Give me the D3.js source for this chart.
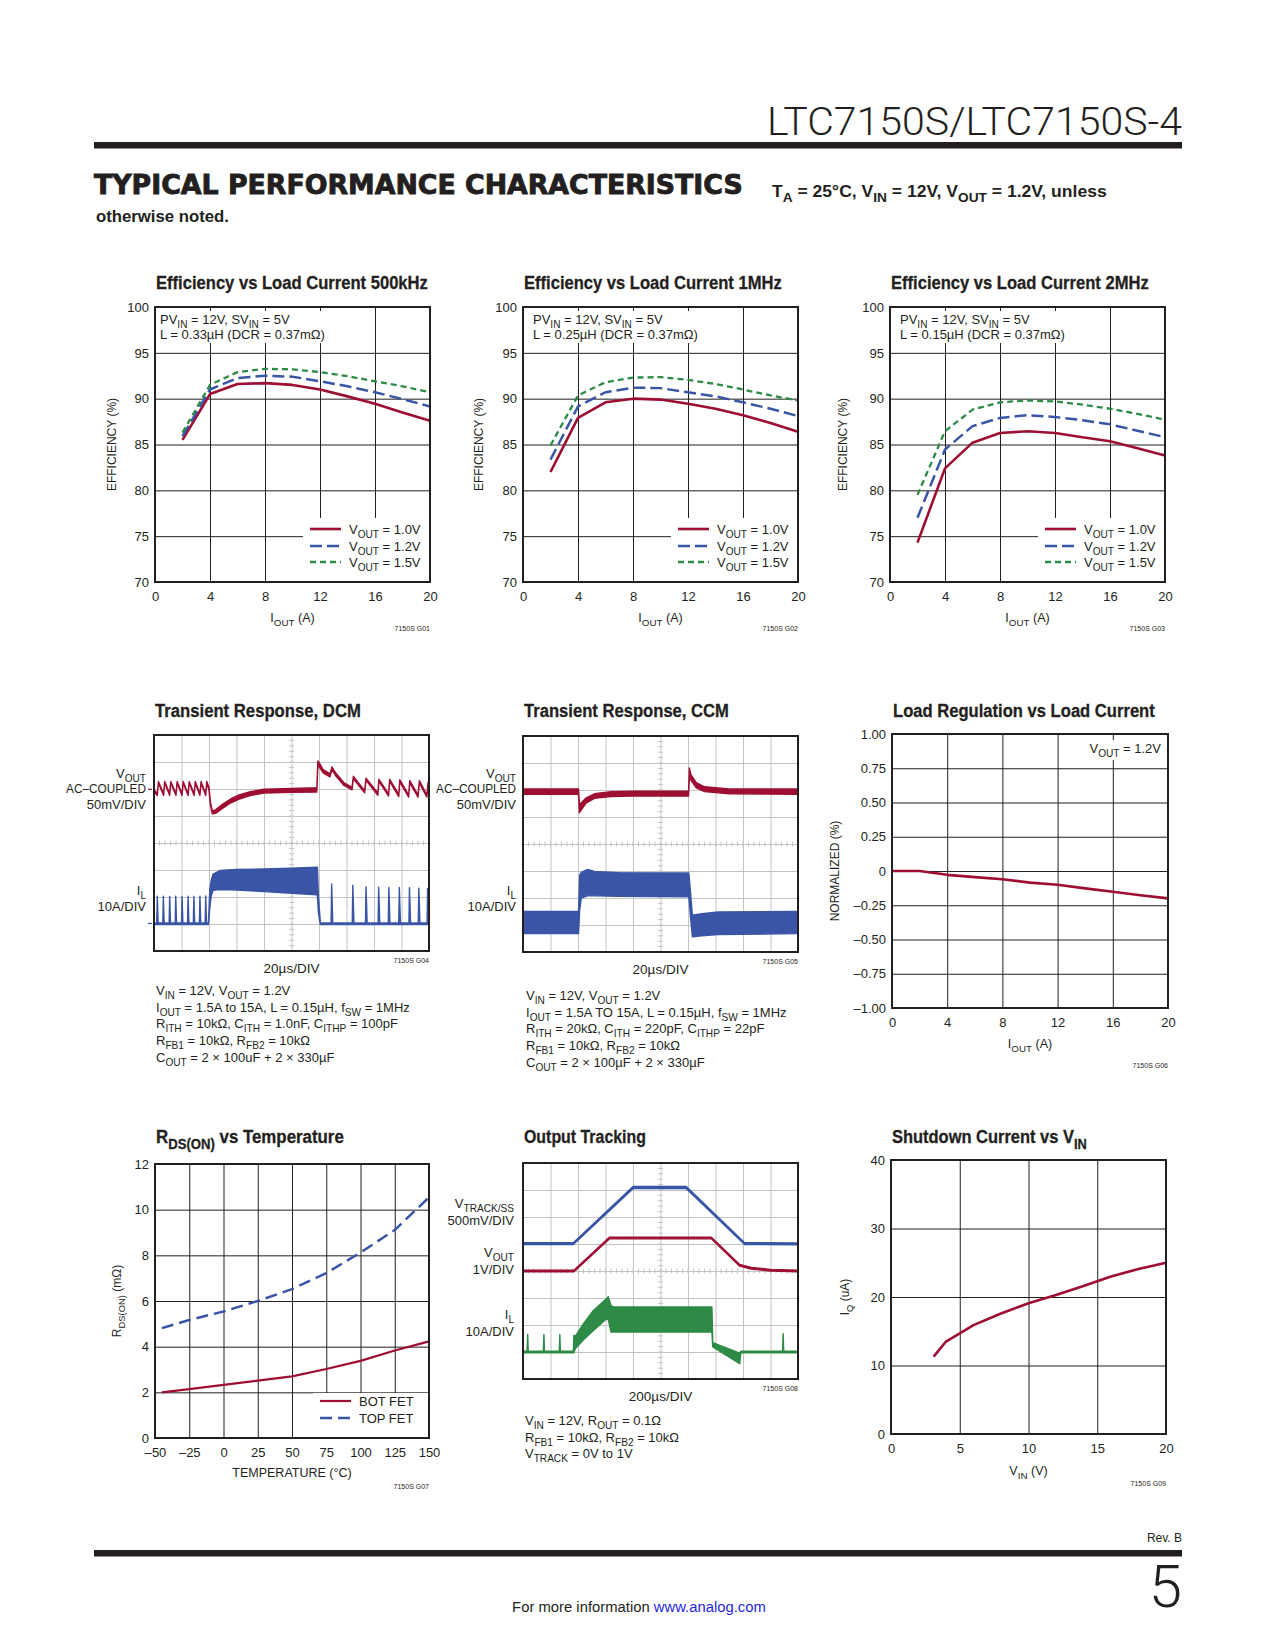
<!DOCTYPE html>
<html>
<head>
<meta charset="utf-8">
<script src="https://cdn.jsdelivr.net/npm/d3@7"></script>
<style>
  body { margin: 0; background: #fff; }
  svg { display: block; }
</style>
</head>
<body>
<script>
// ---- data ----
const iout = [2, 4, 6, 8, 10, 12, 14, 16, 18, 20];
const eff500k_10 = [85.5, 90.5, 91.6, 91.7, 91.5, 91.0, 90.25, 89.45, 88.5, 87.6];
const eff500k_12 = [85.9, 91.0, 92.25, 92.5, 92.4, 91.9, 91.35, 90.7, 89.95, 89.15];
const eff500k_15 = [86.3, 91.5, 92.9, 93.25, 93.2, 92.9, 92.45, 91.9, 91.35, 90.7];
const eff1m_10 = [82.0, 87.9, 89.6, 90.0, 89.9, 89.45, 88.9, 88.2, 87.35, 86.4];
const eff1m_12 = [83.35, 89.15, 90.7, 91.2, 91.15, 90.7, 90.25, 89.6, 88.9, 88.1];
const eff1m_15 = [84.9, 90.35, 91.8, 92.3, 92.35, 92.05, 91.6, 91.0, 90.35, 89.8];
const eff2m_10 = [74.3, 82.4, 85.2, 86.25, 86.45, 86.25, 85.8, 85.35, 84.6, 83.8];
const eff2m_12 = [77.0, 84.45, 87.0, 87.9, 88.2, 88.0, 87.65, 87.2, 86.5, 85.8];
const eff2m_15 = [79.5, 86.45, 88.8, 89.6, 89.8, 89.7, 89.35, 88.9, 88.35, 87.7];
const effTicksX = [0, 4, 8, 12, 16, 20];
const effTicksY = [70, 75, 80, 85, 90, 95, 100];

const regI = [0, 2, 4, 6, 8, 10, 12, 14, 16, 18, 20];
const regPct = [0, 0, -0.028, -0.045, -0.06, -0.085, -0.10, -0.127, -0.152, -0.177, -0.20];
const regTicksY = [-1, -0.75, -0.5, -0.25, 0, 0.25, 0.5, 0.75, 1];
const regTickLabels = ["\u20131.00", "\u20130.75", "\u20130.50", "\u20130.25", "0", "0.25", "0.50", "0.75", "1.00"];

const tempC = [-45, -25, 0, 25, 50, 75, 100, 125, 150];
const rdsBot = [2.0, 2.14, 2.33, 2.51, 2.7, 3.02, 3.38, 3.83, 4.23];
const rdsTop = [4.81, 5.17, 5.54, 6.0, 6.52, 7.22, 8.12, 9.11, 10.54];
const tempTicks = [-50, -25, 0, 25, 50, 75, 100, 125, 150];
const tempTickLabels = ["\u201350", "\u201325", "0", "25", "50", "75", "100", "125", "150"];
const rdsTicks = [0, 2, 4, 6, 8, 10, 12];

const vin = [3.1, 4, 5, 6, 8, 10, 12, 14, 16, 18, 20];
const iq = [11.3, 13.5, 14.7, 15.9, 17.6, 19.1, 20.3, 21.6, 23.0, 24.1, 25.0];
const vinTicks = [0, 5, 10, 15, 20];
const iqTicks = [0, 10, 20, 30, 40];

// scope traces: [time div, low div, high div]  (0..10 across, 0..8 up)
const dcmVout = [
  [0, 5.92, 5.98], [0.12, 5.76, 5.82], [0.16, 6.22, 6.28], [0.35, 5.76, 5.82], [0.39, 6.22, 6.28],
  [0.57, 5.76, 5.82], [0.61, 6.22, 6.28], [0.8, 5.76, 5.82], [0.84, 6.22, 6.28], [1.02, 5.76, 5.82],
  [1.06, 6.22, 6.28], [1.24, 5.76, 5.82], [1.28, 6.22, 6.28], [1.46, 5.76, 5.82], [1.5, 6.22, 6.28],
  [1.67, 5.76, 5.82], [1.71, 6.22, 6.28], [1.88, 5.76, 5.82], [1.92, 6.22, 6.28], [2.0, 5.95, 6.05],
  [2.05, 5.42, 5.53], [2.12, 5.08, 5.18], [2.25, 5.1, 5.24], [2.5, 5.29, 5.44], [2.8, 5.49, 5.64],
  [3.1, 5.63, 5.78], [3.5, 5.76, 5.9], [4.0, 5.85, 5.99], [5.0, 5.88, 6.02], [5.92, 5.89, 6.05],
  [5.96, 6.88, 7.04], [6.02, 6.8, 6.95], [6.15, 6.6, 6.72], [6.4, 6.45, 6.56], [6.47, 6.72, 6.82],
  [6.6, 6.5, 6.6], [6.9, 6.14, 6.24], [7.2, 5.97, 6.06], [7.25, 6.38, 6.47], [7.66, 5.86, 5.94],
  [7.71, 6.32, 6.4], [8.14, 5.77, 5.85], [8.18, 6.28, 6.36], [8.53, 5.74, 5.82], [8.57, 6.28, 6.36],
  [8.9, 5.72, 5.8], [8.94, 6.26, 6.34], [9.26, 5.7, 5.78], [9.3, 6.23, 6.31], [9.6, 5.7, 5.78],
  [9.65, 6.23, 6.31], [9.92, 5.7, 5.78], [9.97, 6.18, 6.26], [10, 6.12, 6.2]
];
const dcmIL = [
  [0, 0.98, 1.04], [0.1, 0.98, 1.04], [0.12, 0.98, 2.03], [0.15, 0.98, 1.04],
  [0.32, 0.98, 1.04], [0.34, 0.98, 2.03], [0.37, 0.98, 1.04],
  [0.55, 0.98, 1.04], [0.57, 0.98, 2.02], [0.6, 0.98, 1.04],
  [0.77, 0.98, 1.04], [0.79, 0.98, 2.03], [0.82, 0.98, 1.04],
  [1.0, 0.98, 1.04], [1.02, 0.98, 2.02], [1.05, 0.98, 1.04],
  [1.22, 0.98, 1.04], [1.24, 0.98, 2.03], [1.27, 0.98, 1.04],
  [1.43, 0.98, 1.04], [1.45, 0.98, 2.02], [1.48, 0.98, 1.04],
  [1.65, 0.98, 1.04], [1.67, 0.98, 2.03], [1.7, 0.98, 1.04],
  [1.86, 0.98, 1.04], [1.88, 0.98, 2.04], [1.91, 0.98, 1.04],
  [1.98, 0.98, 1.04], [2.03, 1.6, 2.3], [2.08, 2.05, 2.6], [2.15, 2.25, 2.85], [2.4, 2.28, 2.98],
  [3.0, 2.26, 3.02], [4.0, 2.2, 3.04], [5.0, 2.14, 3.07], [5.94, 2.08, 3.1], [5.98, 1.4, 2.0],
  [6.05, 0.98, 1.04], [6.44, 0.98, 1.04], [6.46, 0.98, 2.48], [6.5, 0.98, 1.04],
  [7.21, 0.98, 1.04], [7.23, 0.98, 2.44], [7.27, 0.98, 1.04],
  [7.69, 0.98, 1.04], [7.71, 0.98, 2.38], [7.75, 0.98, 1.04],
  [8.15, 0.98, 1.04], [8.17, 0.98, 2.36], [8.21, 0.98, 1.04],
  [8.52, 0.98, 1.04], [8.54, 0.98, 2.35], [8.58, 0.98, 1.04],
  [8.9, 0.98, 1.04], [8.92, 0.98, 2.35], [8.96, 0.98, 1.04],
  [9.27, 0.98, 1.04], [9.29, 0.98, 2.34], [9.33, 0.98, 1.04],
  [9.61, 0.98, 1.04], [9.63, 0.98, 2.33], [9.67, 0.98, 1.04],
  [9.93, 0.98, 1.04], [9.95, 0.98, 2.32], [9.99, 0.98, 1.04], [10, 0.98, 1.04]
];
const ccmVout = [
  [0, 5.84, 6.04], [2.02, 5.84, 6.04], [2.05, 5.16, 5.46], [2.1, 5.24, 5.51], [2.3, 5.52, 5.71],
  [2.6, 5.69, 5.86], [3.2, 5.76, 5.94], [4.0, 5.78, 5.96], [6.02, 5.78, 5.96], [6.05, 6.47, 6.82],
  [6.1, 6.38, 6.58], [6.3, 6.08, 6.27], [6.6, 5.94, 6.12], [7.5, 5.86, 6.04], [10, 5.84, 6.04]
];
const ccmIL = [
  [0, 0.68, 1.5], [2.02, 0.68, 1.5], [2.06, 1.55, 2.85], [2.12, 2.0, 2.95], [2.35, 2.08, 3.06],
  [2.6, 2.08, 2.98], [3.5, 2.06, 2.94], [6.03, 2.04, 2.93], [6.1, 1.2, 2.1], [6.16, 0.56, 1.36],
  [6.5, 0.6, 1.42], [7.1, 0.65, 1.48], [10, 0.68, 1.5]
];
const trkVtrack = [
  [0, 4.98, 5.05], [1.83, 4.98, 5.05], [4.0, 7.05, 7.13], [5.94, 7.05, 7.13], [8.06, 4.98, 5.05], [10, 4.97, 5.04]
];
const trkVout = [
  [0, 3.97, 4.03], [1.85, 3.97, 4.03], [3.14, 5.19, 5.25], [6.85, 5.19, 5.25], [7.88, 4.18, 4.24],
  [8.3, 4.07, 4.13], [9.0, 4.0, 4.06], [10, 3.97, 4.03]
];
const trkIL = [
  [0, 0.97, 1.03], [0.15, 0.97, 1.03], [0.17, 0.97, 1.65], [0.19, 0.97, 1.03],
  [0.74, 0.97, 1.03], [0.76, 0.97, 1.65], [0.78, 0.97, 1.03],
  [1.32, 0.97, 1.03], [1.34, 0.97, 1.65], [1.36, 0.97, 1.03],
  [1.83, 0.97, 1.03], [1.85, 0.97, 1.62], [1.9, 1.12, 1.58], [2.2, 1.45, 2.05], [2.56, 1.8, 2.54],
  [3.04, 2.23, 2.98], [3.1, 2.2, 3.05], [3.2, 1.74, 2.72], [3.3, 1.74, 2.67], [6.87, 1.74, 2.67],
  [6.9, 1.19, 1.35], [7.88, 0.57, 0.96], [7.92, 0.97, 1.03], [9.44, 0.97, 1.03], [9.46, 0.97, 1.68],
  [9.48, 0.97, 1.03], [10, 0.97, 1.03]
];

// ---- styles ----
const FONT = "'Liberation Sans', Arial, Helvetica, sans-serif";
const NARROW = "'Liberation Sans Narrow', 'Arial Narrow', 'Liberation Sans', Arial, sans-serif";
const INK = "#231f20";
const RED = "#9d0e32", BLUE = "#3a55a5", GREEN = "#2e8b47";

const svg = d3.select("body").append("svg")
  .attr("width", 1275).attr("height", 1650)
  .attr("viewBox", "0 0 1275 1650");
svg.append("rect").attr("width", 1275).attr("height", 1650).attr("fill", "#fff");

// text with _{sub} markup
function rich(t, str, size) {
  const parts = str.split(/_\{([^}]*)\}/);
  const sh = Math.round(size * 0.3);
  let down = false;
  parts.forEach((p, i) => {
    if (!p) return;
    const ts = t.append("tspan").text(p);
    if (i % 2) {
      ts.attr("font-size", Math.round(size * 0.78 * 10) / 10);
      if (!down) { ts.attr("dy", sh); down = true; }
    } else if (down) {
      ts.attr("dy", -sh); down = false;
    }
  });
  return t;
}

// o.len: stretch the whole text horizontally to that width (about its anchor)
function label(parent, x, y, str, o = {}) {
  const size = o.size || 13;
  const t = parent.append("text").attr("x", x).attr("y", y)
    .attr("font-family", o.font || FONT).attr("font-size", size)
    .attr("font-weight", o.weight || "normal").attr("fill", o.fill || INK)
    .attr("text-anchor", o.anchor || "start");
  if (o.stroke) t.attr("stroke", o.fill || INK).attr("stroke-width", o.stroke);
  rich(t, str, size);
  if (o.len) {
    const w0 = t.node().getBBox().width;
    const k = o.len / w0;
    t.attr("transform", `translate(${x},${y}) scale(${k},1) translate(${-x},${-y})`);
  }
  if (o.rotate) t.attr("transform", `rotate(-90 ${x} ${y})`);
  return t;
}

function styleAxis(a, color, size) {
  a.select(".domain").remove();
  a.selectAll("line").attr("stroke", color).attr("stroke-width", 1);
  a.selectAll("text").attr("font-family", FONT).attr("font-size", size).attr("fill", INK);
}

// ---- header ----
label(svg, 1182, 135, "LTC7150S/LTC7150S-4",
  { font: "Roboto, 'Liberation Sans', sans-serif", weight: 300, size: 39, anchor: "end", len: 415 });
svg.append("rect").attr("x", 94).attr("y", 142).attr("width", 1088).attr("height", 6.5).attr("fill", INK);
label(svg, 94, 194, "TYPICAL PERFORMANCE CHARACTERISTICS",
  { font: "'DejaVu Sans', sans-serif", weight: "bold", size: 27, len: 649, stroke: 0.9 });
label(svg, 772, 197, "T_{A} = 25°C, V_{IN} = 12V, V_{OUT} = 1.2V, unless",
  { font: NARROW, weight: "bold", size: 16, len: 335 });
label(svg, 96, 222, "otherwise noted.", { font: NARROW, weight: "bold", size: 16, len: 133 });

// ---- footer ----
label(svg, 1182, 1542, "Rev. B", { font: NARROW, size: 12, anchor: "end" });
svg.append("rect").attr("x", 94).attr("y", 1550).attr("width", 1088).attr("height", 6.5).attr("fill", INK);
label(svg, 1182, 1607, "5", { font: "Roboto, 'Liberation Sans', sans-serif", weight: 300, size: 60, anchor: "end" });
const foot = svg.append("text").attr("x", 639).attr("y", 1612).attr("text-anchor", "middle")
  .attr("font-family", NARROW).attr("font-size", 15).attr("fill", INK);
foot.append("tspan").text("For more information ");
foot.append("tspan").attr("fill", "#1f1fe6").text("www.analog.com");
{
  const k = 254 / foot.node().getBBox().width;
  foot.attr("transform", `translate(639,1612) scale(${k},1) translate(-639,-1612)`);
}

// ---- x/y line charts ----
function xyChart(o) {
  const g = svg.append("g");
  const x = d3.scaleLinear().domain(o.xDomain).range([o.left, o.left + o.w]);
  const y = d3.scaleLinear().domain(o.yDomain).range([o.top + o.h, o.top]);

  const gx = g.append("g").attr("transform", `translate(0,${o.top + o.h})`)
    .call(d3.axisBottom(x).tickValues(o.xTicks).tickSize(-o.h).tickPadding(10)
      .tickFormat((d, i) => o.xTickLabels ? o.xTickLabels[i] : d));
  const gy = g.append("g").attr("transform", `translate(${o.left},0)`)
    .call(d3.axisLeft(y).tickValues(o.yTicks).tickSize(-o.w).tickPadding(6)
      .tickFormat((d, i) => o.yTickLabels ? o.yTickLabels[i] : d));
  styleAxis(gx, INK, 13);
  styleAxis(gy, INK, 13);

  // annotation (white box hides grid)
  if (o.annot) {
    const ga = g.append("g");
    o.annot.forEach(a => label(ga, o.left + a.dx, o.top + a.dy, a.text, { size: 13, anchor: a.anchor }));
    const b = ga.node().getBBox();
    ga.insert("rect", ":first-child").attr("x", b.x - 3).attr("y", b.y - 1)
      .attr("width", b.width + 6).attr("height", b.height + 2).attr("fill", "#fff");
  }

  // legend box
  if (o.legend) {
    const L = o.legend, R = o.left + o.w;
    const gl = g.append("g");
    gl.append("rect").attr("x", R - L.box).attr("y", o.top + L.top)
      .attr("width", L.box).attr("height", o.h - L.top).attr("fill", "#fff");
    o.series.forEach((s, i) => {
      const yy = o.top + L.rows[i];
      gl.append("line").attr("x1", R - L.x0).attr("x2", R - L.x1).attr("y1", yy).attr("y2", yy)
        .attr("stroke", s.color).attr("stroke-width", s.width).attr("stroke-dasharray", s.dash || null);
      label(gl, R - L.tx, yy + 4.5, s.name, { size: 13 });
    });
  }

  const line = d3.line().x(d => x(d[0])).y(d => y(d[1]));
  o.series.forEach(s => {
    g.append("path").attr("d", line(d3.zip(s.x, s.y)))
      .attr("fill", "none").attr("stroke", s.color).attr("stroke-width", s.width)
      .attr("stroke-dasharray", s.dash || null).attr("stroke-linejoin", "round");
  });

  g.append("rect").attr("x", o.left).attr("y", o.top).attr("width", o.w).attr("height", o.h)
    .attr("fill", "none").attr("stroke", INK).attr("stroke-width", 2);

  label(g, o.left + 1, o.titleY, o.title, { font: NARROW, weight: "bold", size: 18.5, len: o.titleLen, stroke: 0.3 });
  label(g, o.left + o.w / 2, o.top + o.h + o.xLabelDy, o.xLabel, { size: 12.5, anchor: "middle" });
  label(g, o.left + o.yLabelDx, o.top + o.h / 2, o.yLabel, { size: 12, anchor: "middle", rotate: true });
  label(g, o.left + o.w, o.top + o.h + o.codeDy, o.code, { font: NARROW, size: 7, anchor: "end" });
}

const effLegend = { box: 127, top: 211, x0: 120, x1: 89, tx: 81, rows: [222, 239, 255] };
const effSets = [
  { left: 155, title: "Efficiency vs Load Current 500kHz", len: 272, ind: "L = 0.33µH (DCR = 0.37mΩ)",
    s: [eff500k_10, eff500k_12, eff500k_15], code: "7150S G01", ax: 5, ylx: -39 },
  { left: 523, title: "Efficiency vs Load Current 1MHz", len: 258, ind: "L = 0.25µH (DCR = 0.37mΩ)",
    s: [eff1m_10, eff1m_12, eff1m_15], code: "7150S G02", ax: 10, ylx: -40 },
  { left: 890, title: "Efficiency vs Load Current 2MHz", len: 258, ind: "L = 0.15µH (DCR = 0.37mΩ)",
    s: [eff2m_10, eff2m_12, eff2m_15], code: "7150S G03", ax: 10, ylx: -43 }
];
effSets.forEach(e => xyChart({
  left: e.left, top: 307, w: 275, h: 275,
  xDomain: [0, 20], yDomain: [70, 100], xTicks: effTicksX, yTicks: effTicksY,
  title: e.title, titleY: 289, titleLen: e.len,
  xLabel: "I_{OUT} (A)", xLabelDy: 40, yLabel: "EFFICIENCY (%)", yLabelDx: e.ylx,
  code: e.code, codeDy: 49,
  annot: [{ text: "PV_{IN} = 12V, SV_{IN} = 5V", dx: e.ax, dy: 17 }, { text: e.ind, dx: e.ax, dy: 32 }],
  legend: effLegend,
  series: [
    { x: iout, y: e.s[0], color: RED, width: 2.6, name: "V_{OUT} = 1.0V" },
    { x: iout, y: e.s[1], color: BLUE, width: 2.5, dash: "12,5", name: "V_{OUT} = 1.2V" },
    { x: iout, y: e.s[2], color: GREEN, width: 2.3, dash: "6,4", name: "V_{OUT} = 1.5V" }
  ]
}));

xyChart({
  left: 892, top: 734, w: 276, h: 274,
  xDomain: [0, 20], yDomain: [-1, 1], xTicks: effTicksX, yTicks: regTicksY, yTickLabels: regTickLabels,
  title: "Load Regulation vs Load Current", titleY: 717, titleLen: 262,
  xLabel: "I_{OUT} (A)", xLabelDy: 40, yLabel: "NORMALIZED (%)", yLabelDx: -53,
  code: "7150S G06", codeDy: 60,
  annot: [{ text: "V_{OUT} = 1.2V", dx: 269, dy: 19, anchor: "end" }],
  series: [{ x: regI, y: regPct, color: RED, width: 2.6 }]
});

xyChart({
  left: 155, top: 1164, w: 274, h: 274,
  xDomain: [-50, 150], yDomain: [0, 12], xTicks: tempTicks, xTickLabels: tempTickLabels, yTicks: rdsTicks,
  title: "R_{DS(ON)} vs Temperature", titleY: 1143, titleLen: 188,
  xLabel: "TEMPERATURE (°C)", xLabelDy: 39, yLabel: "R_{DS(ON)} (mΩ)", yLabelDx: -34,
  code: "7150S G07", codeDy: 51,
  legend: { box: 116, top: 229, x0: 109, x1: 78, tx: 70, rows: [237, 254] },
  series: [
    { x: tempC, y: rdsBot, color: RED, width: 2.2, name: "BOT FET" },
    { x: tempC, y: rdsTop, color: BLUE, width: 2.5, dash: "12,6", name: "TOP FET" }
  ]
});

xyChart({
  left: 891, top: 1160, w: 275, h: 274,
  xDomain: [0, 20], yDomain: [0, 40], xTicks: vinTicks, yTicks: iqTicks,
  title: "Shutdown Current vs V_{IN}", titleY: 1143, titleLen: 195,
  xLabel: "V_{IN} (V)", xLabelDy: 41, yLabel: "I_{Q} (uA)", yLabelDx: -42,
  code: "7150S G09", codeDy: 52,
  series: [{ x: vin, y: iq, color: RED, width: 2.6 }]
});

// ---- scope captures ----
let clipId = 0;
function scope(o) {
  const g = svg.append("g");
  const w = 275, h = 216;
  const x = d3.scaleLinear().domain([0, 10]).range([o.left, o.left + w]);
  const y = d3.scaleLinear().domain([0, 8]).range([o.top + h, o.top]);

  const gx = g.append("g").attr("transform", `translate(0,${o.top + h})`)
    .call(d3.axisBottom(x).tickValues(d3.range(1, 10)).tickSize(-h).tickFormat(""));
  const gy = g.append("g").attr("transform", `translate(${o.left},0)`)
    .call(d3.axisLeft(y).tickValues(d3.range(1, 8)).tickSize(-w).tickFormat(""));
  styleAxis(gx, "#c4c4c4", 1);
  styleAxis(gy, "#c4c4c4", 1);
  // minor ticks on the centre lines
  g.selectAll(null).data(d3.range(0.2, 10, 0.2)).join("line")
    .attr("x1", d => x(d)).attr("x2", d => x(d)).attr("y1", y(4) - 2.5).attr("y2", y(4) + 2.5)
    .attr("stroke", "#c4c4c4");
  g.selectAll(null).data(d3.range(0.2, 8, 0.2)).join("line")
    .attr("y1", d => y(d)).attr("y2", d => y(d)).attr("x1", x(5) - 2.5).attr("x2", x(5) + 2.5)
    .attr("stroke", "#c4c4c4");

  const id = "clip" + (clipId++);
  g.append("clipPath").attr("id", id).append("rect")
    .attr("x", o.left).attr("y", o.top).attr("width", w).attr("height", h);
  const area = d3.area().x(d => x(d[0])).y0(d => y(d[1])).y1(d => y(d[2]));
  o.traces.forEach(t => {
    g.append("path").attr("d", area(t.data)).attr("clip-path", `url(#${id})`)
      .attr("fill", t.color).attr("stroke", t.color).attr("stroke-width", 1.4)
      .attr("stroke-linejoin", "round");
  });
  (o.markers || []).forEach(m => {
    g.append("line").attr("x1", o.left - 6).attr("x2", o.left - 2).attr("y1", y(m.at)).attr("y2", y(m.at))
      .attr("stroke", m.color).attr("stroke-width", 1.2);
  });

  g.append("rect").attr("x", o.left).attr("y", o.top).attr("width", w).attr("height", h)
    .attr("fill", "none").attr("stroke", INK).attr("stroke-width", 2);

  label(g, o.left + 1, o.titleY, o.title, { font: NARROW, weight: "bold", size: 18.5, len: o.titleLen, stroke: 0.3 });
  o.labels.forEach(l => label(g, o.left - o.labelDx, o.top + l.dy, l.text, { size: 13, anchor: "end", len: l.len }));
  label(g, o.left + w / 2, o.top + h + 22, o.timebase, { size: 13.5, anchor: "middle" });
  label(g, o.left + w, o.top + h + 12, o.code, { font: NARROW, size: 7, anchor: "end" });
  o.notes.forEach((n, i) => label(g, o.left + o.notesDx, o.notesY[i], n, { size: 13 }));
}

scope({
  left: 154, top: 735, title: "Transient Response, DCM", titleY: 717, titleLen: 206,
  traces: [{ data: dcmVout, color: RED }, { data: dcmIL, color: BLUE }],
  markers: [{ at: 5.99, color: RED }, { at: 1.02, color: BLUE }],
  labelDx: 8,
  labels: [{ text: "V_{OUT}", dy: 43 }, { text: "AC\u2013COUPLED", dy: 58, len: 80 }, { text: "50mV/DIV", dy: 74 },
           { text: "I_{L}", dy: 160 }, { text: "10A/DIV", dy: 176 }],
  timebase: "20µs/DIV", code: "7150S G04", notesDx: 2,
  notesY: [995, 1012, 1028, 1045, 1062],
  notes: ["V_{IN} = 12V, V_{OUT} = 1.2V",
          "I_{OUT} = 1.5A to 15A, L = 0.15µH, f_{SW} = 1MHz",
          "R_{ITH} = 10kΩ, C_{ITH} = 1.0nF, C_{ITHP} = 100pF",
          "R_{FB1} = 10kΩ, R_{FB2} = 10kΩ",
          "C_{OUT} = 2 × 100uF + 2 × 330µF"]
});

scope({
  left: 523, top: 736, title: "Transient Response, CCM", titleY: 717, titleLen: 205,
  traces: [{ data: ccmVout, color: RED }, { data: ccmIL, color: BLUE }],
  labelDx: 7,
  labels: [{ text: "V_{OUT}", dy: 42 }, { text: "AC\u2013COUPLED", dy: 57, len: 80 }, { text: "50mV/DIV", dy: 73 },
           { text: "I_{L}", dy: 159 }, { text: "10A/DIV", dy: 175 }],
  timebase: "20µs/DIV", code: "7150S G05", notesDx: 3,
  notesY: [1000, 1017, 1033, 1050, 1067],
  notes: ["V_{IN} = 12V, V_{OUT} = 1.2V",
          "I_{OUT} = 1.5A TO 15A, L = 0.15µH, f_{SW} = 1MHz",
          "R_{ITH} = 20kΩ, C_{ITH} = 220pF, C_{ITHP} = 22pF",
          "R_{FB1} = 10kΩ, R_{FB2} = 10kΩ",
          "C_{OUT} = 2 × 100µF + 2 × 330µF"]
});

scope({
  left: 523, top: 1163, title: "Output Tracking", titleY: 1143, titleLen: 122,
  traces: [{ data: trkVtrack, color: BLUE }, { data: trkVout, color: RED }, { data: trkIL, color: GREEN }],
  labelDx: 9,
  labels: [{ text: "V_{TRACK/SS}", dy: 45 }, { text: "500mV/DIV", dy: 62 }, { text: "V_{OUT}", dy: 94 },
           { text: "1V/DIV", dy: 111 }, { text: "I_{L}", dy: 156 }, { text: "10A/DIV", dy: 173 }],
  timebase: "200µs/DIV", code: "7150S G08", notesDx: 2,
  notesY: [1425, 1442, 1458],
  notes: ["V_{IN} = 12V, R_{OUT} = 0.1Ω",
          "R_{FB1} = 10kΩ, R_{FB2} = 10kΩ",
          "V_{TRACK} = 0V to 1V"]
});
</script>
</body>
</html>
